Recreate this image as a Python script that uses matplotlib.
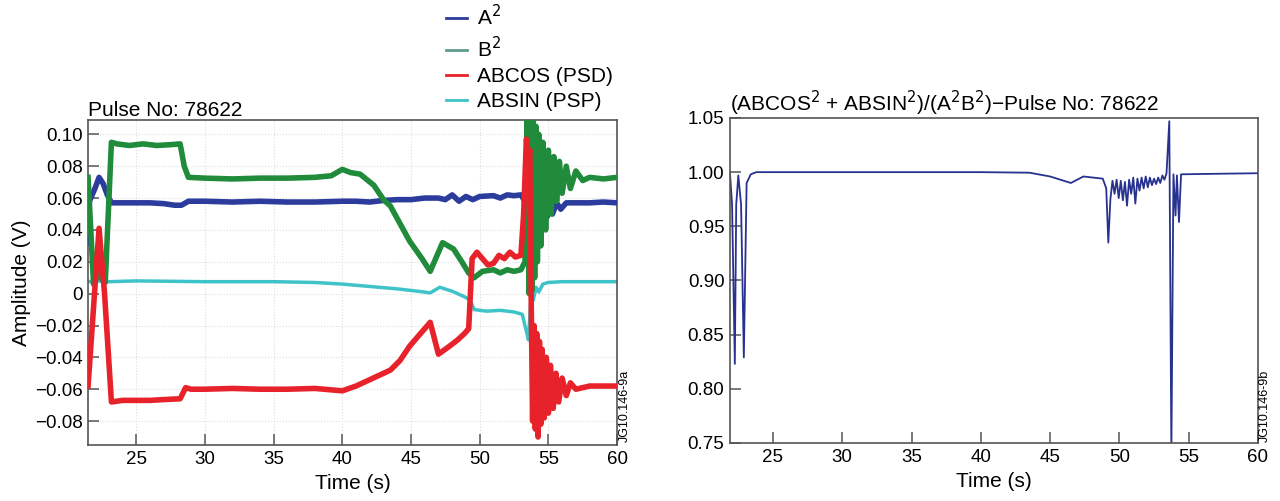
import matplotlib
matplotlib.use('Agg')
import matplotlib.pyplot as plt
from matplotlib.ticker import FuncFormatter

plt.rcParams['font.family'] = ['Liberation Sans', 'DejaVu Sans']
plt.rcParams['font.size'] = 13

# Left panel: signals (s, V)
t_a2 = [21.5, 21.6, 22.0, 22.3, 22.6, 22.9, 23.2, 24, 25, 26, 27, 27.8, 28.3, 28.8, 30, 32, 34, 36,
        38, 40, 41, 42, 43, 44, 45, 46, 47, 47.5, 48, 48.5, 49, 49.5, 50, 51, 51.5, 52, 52.5, 53,
        53.3, 53.5, 53.7, 53.9, 54.1, 54.3, 54.5, 54.7, 54.9, 55.1, 55.3, 55.6, 55.9, 56.3, 57, 58, 59, 60]
a2 = [0.032, 0.058, 0.066, 0.073, 0.069, 0.062, 0.057, 0.057, 0.057, 0.057, 0.0565, 0.0555, 0.0555,
      0.058, 0.058, 0.0575, 0.058, 0.0575, 0.0575, 0.058, 0.058, 0.0575, 0.0585, 0.059, 0.059, 0.060,
      0.060, 0.059, 0.062, 0.058, 0.061, 0.059, 0.061, 0.0615, 0.060, 0.062, 0.0615, 0.062, 0.058,
      0.066, 0.055, 0.068, 0.045, 0.062, 0.042, 0.060, 0.048, 0.058, 0.050, 0.057, 0.053, 0.057,
      0.057, 0.057, 0.0575, 0.057]

t_b2 = [21.5, 21.9, 22.15, 22.4, 22.75, 23.2, 23.6, 24.5, 25.5, 26.5, 27.5, 28.2, 28.5, 28.8, 30, 32,
        34, 36, 38, 39.2, 40, 40.6, 41.3, 42.3, 43.0, 43.5, 44.9, 45.8, 46.4, 47.3, 48.1, 48.7, 49.2,
        49.6, 50.2, 51, 51.5, 52, 52.5, 53.0, 53.3, 53.45, 53.6, 53.7, 53.8, 53.9, 54.0, 54.1, 54.2,
        54.3, 54.45, 54.6, 54.8, 55.0, 55.2, 55.4, 55.6, 55.8, 56.0, 56.3, 56.6, 57.0, 57.5, 58, 59, 60]
b2 = [0.073, 0.006, 0.025, 0.010, 0.007, 0.095, 0.094, 0.093, 0.094, 0.093, 0.0935, 0.094, 0.080,
      0.073, 0.0725, 0.072, 0.0725, 0.0725, 0.073, 0.074, 0.078, 0.076, 0.075, 0.068, 0.059, 0.055,
      0.033, 0.022, 0.014, 0.032, 0.028, 0.020, 0.013, 0.010, 0.014, 0.015, 0.013, 0.015, 0.014, 0.015,
      0.020, 0.115, 0.0, 0.112, 0.002, 0.110, 0.010, 0.105, 0.020, 0.100, 0.030, 0.095, 0.040, 0.090,
      0.050, 0.086, 0.058, 0.083, 0.063, 0.080, 0.066, 0.077, 0.071, 0.073, 0.072, 0.073]

t_cos = [21.5, 22.3, 22.7, 23.2, 24, 25, 26, 27, 28.2, 28.6, 29, 30, 32, 34, 36, 38, 40, 41, 42, 43,
         43.5, 44.2, 44.9, 45.6, 46.4, 47.0, 47.8, 48.4, 48.9, 49.2, 49.45, 49.8, 50.2, 50.6, 51.0,
         51.4, 51.8, 52.2, 52.6, 53.0, 53.2, 53.4, 53.55, 53.65, 53.75, 53.85, 53.95, 54.05, 54.15,
         54.25, 54.35, 54.45, 54.55, 54.7, 54.85, 55.0, 55.15, 55.35, 55.55, 55.75, 56.0, 56.3, 56.6,
         57.0, 58, 59, 60]
abcos = [-0.058, 0.041, 0.0, -0.068, -0.067, -0.067, -0.067, -0.0665, -0.066, -0.059, -0.060, -0.060,
         -0.0595, -0.060, -0.060, -0.0595, -0.061, -0.058, -0.054, -0.050, -0.048, -0.042, -0.033,
         -0.026, -0.018, -0.038, -0.033, -0.029, -0.025, -0.022, 0.022, 0.026, 0.022, 0.018, 0.019,
         0.024, 0.022, 0.026, 0.023, 0.024, 0.050, 0.097, 0.085, 0.090, -0.005, -0.080, -0.020, -0.085,
         -0.025, -0.090, -0.030, -0.082, -0.035, -0.078, -0.040, -0.075, -0.045, -0.072, -0.050, -0.068,
         -0.053, -0.064, -0.056, -0.060, -0.058, -0.058, -0.058]

t_sin = [21.5, 22, 23, 25, 30, 35, 38, 40, 42, 44, 45.5, 46.4, 47.1, 48, 48.9, 49.3, 49.6, 50.5, 51.5,
         52.5, 53.1, 53.35, 53.55, 53.75, 53.9, 54.1, 54.3, 54.6, 55, 56, 58, 60]
absin = [0.0075, 0.008, 0.0075, 0.008, 0.0075, 0.0075, 0.007, 0.006, 0.0045, 0.003, 0.0015, 0.0005,
         0.004, 0.0015, -0.002, -0.004, -0.010, -0.011, -0.0105, -0.0115, -0.013, -0.022, -0.029, 0.0,
         -0.004, 0.004, 0.001, 0.006, 0.007, 0.0075, 0.0075, 0.0075]

# Right panel: (ABCOS^2 + ABSIN^2)/(A^2 B^2)
t_ratio = [21.9, 22.05, 22.25, 22.35, 22.5, 22.7, 22.9, 23.1, 23.4, 23.8, 30, 40, 43.5, 45, 46.5,
           47.4, 48.8, 49.05, 49.2, 49.35, 49.5, 49.65, 49.8, 49.95, 50.1, 50.25, 50.4, 50.55, 50.7,
           50.85, 51.0, 51.15, 51.3, 51.45, 51.6, 51.75, 51.9, 52.05, 52.2, 52.35, 52.5, 52.65, 52.8,
           52.95, 53.1, 53.25, 53.4, 53.6, 53.75, 53.9, 54.05, 54.15, 54.3, 54.45, 57, 60]
ratio = [0.999, 0.97, 0.823, 0.97, 0.997, 0.97, 0.829, 0.99, 0.998, 1.0, 1.0, 1.0, 0.9995, 0.996,
         0.990, 0.996, 0.994, 0.985, 0.935, 0.975, 0.992, 0.980, 0.993, 0.976, 0.992, 0.974, 0.991,
         0.969, 0.993, 0.980, 0.995, 0.971, 0.994, 0.983, 0.995, 0.985, 0.996, 0.986, 0.995, 0.988,
         0.994, 0.989, 0.995, 0.990, 0.997, 0.993, 0.999, 1.047, 0.74, 0.998, 0.960, 0.997, 0.954,
         0.998, 0.9985, 0.999]

BLUE = '#2b3c9c'
GREEN = '#1f8b3b'
RED = '#e8222a'
CYAN = '#3ec3c9'
SPINE = '#555555'

fig = plt.figure(figsize=(12.8, 5.01), dpi=100)
ax1 = fig.add_axes([0.0688, 0.1118, 0.4133, 0.6487])
ax2 = fig.add_axes([0.5703, 0.1158, 0.4125, 0.6487])


def style(ax):
    for s in ax.spines.values():
        s.set_color(SPINE)
        s.set_linewidth(1.2)
    ax.tick_params(direction='in', length=8, width=1.1, color=SPINE, pad=4, labelsize=13.5)
    ax.set_xticks([25, 30, 35, 40, 45, 50, 55, 60])


ax1.grid(True, ls=':', color='#dddddd', lw=0.8)
l1, = ax1.plot(t_a2, a2, color=BLUE, lw=4, zorder=3)
l2, = ax1.plot(t_b2, b2, color=GREEN, lw=4, zorder=4)
l3, = ax1.plot(t_cos, abcos, color=RED, lw=4, zorder=5)
l4, = ax1.plot(t_sin, absin, color=CYAN, lw=2.5, zorder=2)
ax1.set_xlim(21.5, 60)
ax1.set_ylim(-0.095, 0.109)
ax1.set_yticks([0.10, 0.08, 0.06, 0.04, 0.02, 0, -0.02, -0.04, -0.06, -0.08])
ax1.yaxis.set_major_formatter(FuncFormatter(
    lambda v, p: '0' if abs(v) < 1e-9 else f'{v:.2f}'.replace('-', '\u2212')))
style(ax1)
ax1.set_xlabel('Time (s)', fontsize=15, labelpad=5)
ax1.set_ylabel('Amplitude (V)', fontsize=15, labelpad=3)
ax1.set_title('Pulse No: 78622', loc='left', fontsize=15, pad=2)

ax2.plot(t_ratio, ratio, color='#27318f', lw=1.3)
ax2.set_xlim(21.9, 60)
ax2.set_ylim(0.75, 1.05)
ax2.set_yticks([0.75, 0.80, 0.85, 0.90, 0.95, 1.00, 1.05])
ax2.yaxis.set_major_formatter(FuncFormatter(lambda v, p: f'{v:.2f}'))
style(ax2)
ax2.set_xlabel('Time (s)', fontsize=15, labelpad=5)
ax2.set_title('(ABCOS$^2$ + ABSIN$^2$)/(A$^2$B$^2$)\u2212Pulse No: 78622', loc='left', fontsize=15, pad=2)

leg_handles = [plt.Line2D([], [], color=c, lw=2) for c in (BLUE, '#5f9a8c', RED, CYAN)]
fig.legend(leg_handles, ['A$^2$', 'B$^2$', 'ABCOS (PSD)', 'ABSIN (PSP)'],
           loc='upper left', bbox_to_anchor=(0.345, 1.0), frameon=False, fontsize=15,
           handlelength=1.0, handletextpad=0.5, labelspacing=0.3,
           borderaxespad=0.0, borderpad=0.2)

fig.text(0.4885, 0.118, 'JG10.146-9a', rotation=90, fontsize=9, ha='center', va='bottom')
fig.text(0.9885, 0.118, 'JG10.146-9b', rotation=90, fontsize=9, ha='center', va='bottom')

fig.savefig('out.png', dpi=100)
